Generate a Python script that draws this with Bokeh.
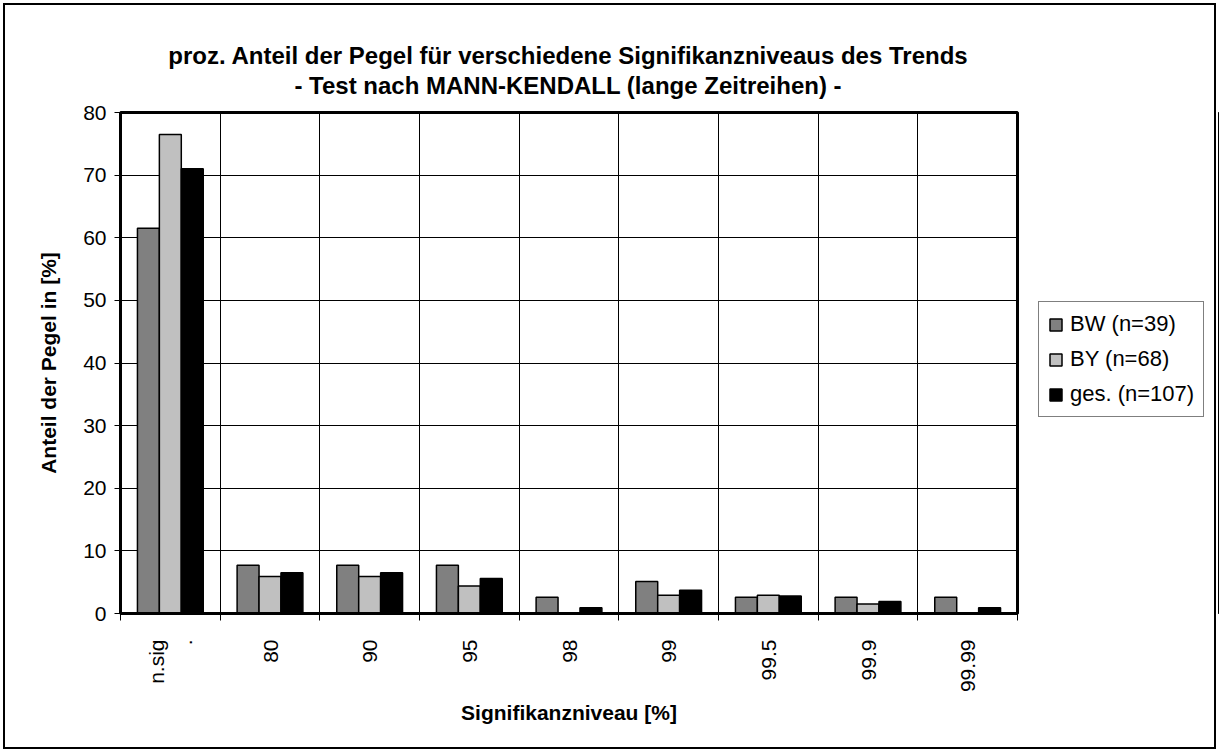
from math import pi
from bokeh.plotting import figure
from bokeh.layouts import column, row
from bokeh.models import FixedTicker, Legend, LegendItem, Range1d, Div
from bokeh.embed import file_html
from bokeh.resources import INLINE

# ---- data ----
categories = ["n.sig\n.", "80", "90", "95", "98", "99", "99.5", "99.9", "99.99"]
bw = [61.5, 7.7, 7.7, 7.7, 2.6, 5.1, 2.6, 2.6, 2.6]
by = [76.5, 5.9, 5.9, 4.4, 0.0, 2.9, 2.9, 1.5, 0.0]
ges = [71.0, 6.5, 6.5, 5.6, 0.9, 3.7, 2.8, 1.9, 0.9]
series_names = ["BW (n=39)", "BY (n=68)", "ges. (n=107)"]
series_colors = ["#808080", "#C0C0C0", "#000000"]
y_ticks = [0, 10, 20, 30, 40, 50, 60, 70, 80]
title_lines = ["proz. Anteil der Pegel für verschiedene Signifikanzniveaus des Trends",
               "- Test nach MANN-KENDALL (lange Zeitreihen) -"]
x_title = "Signifikanzniveau [%]"
y_title = "Anteil der Pegel in [%]"

FONT = "Liberation Sans"
n = len(categories)

# ---- title block ----
title_html = ('<div style="font-family:\'Liberation Sans\',Arial,sans-serif;font-size:24px;'
              'font-weight:bold;color:black;text-align:center;line-height:30px;'
              'padding-top:41px;width:1136px;">'
              + "<br>".join(title_lines) + '</div>')
title_div = Div(text=title_html, width=1219, height=100, margin=0)

# ---- chart ----
p = figure(width=1020, height=652, output_backend="svg", toolbar_location=None,
           title=None, x_range=Range1d(0, n), y_range=Range1d(y_ticks[0], y_ticks[-1]),
           min_border_left=120, min_border_right=3, min_border_top=12,
           min_border_bottom=139, margin=0)
p.background_fill_color = "white"
p.border_fill_color = None
p.outline_line_color = "black"
p.outline_line_width = 3

# bars
centers = [i + 0.5 for i in range(n)]
bar_w = 0.22
offsets = [-bar_w, 0.0, bar_w]
series = [bw, by, ges]
for vals, col, off in zip(series, series_colors, offsets):
    p.vbar(x=[c + off for c in centers], top=vals, bottom=0, width=bar_w,
           fill_color=col, line_color="black", line_width=1.5)

# grids
boundaries = list(range(n + 1))
p.xgrid.ticker = FixedTicker(ticks=boundaries)
p.xgrid.grid_line_color = "black"
p.xgrid.grid_line_width = 1
p.ygrid.ticker = FixedTicker(ticks=y_ticks)
p.ygrid.grid_line_color = "black"
p.ygrid.grid_line_width = 1

# y axis
ya = p.yaxis[0]
ya.ticker = FixedTicker(ticks=y_ticks)
ya.axis_line_width = 3
ya.axis_line_color = "black"
ya.major_tick_out = 6
ya.major_tick_in = 0
ya.minor_tick_line_color = None
ya.major_label_text_font = FONT
ya.major_label_text_font_size = "21px"
ya.major_label_text_color = "black"
ya.major_label_standoff = 8
ya.axis_label = y_title
ya.axis_label_text_font = FONT
ya.axis_label_text_font_size = "21px"
ya.axis_label_text_font_style = "bold"
ya.axis_label_text_color = "black"
ya.axis_label_standoff = 20

# x axis: labels at category centres, tick marks at category boundaries
xa = p.xaxis[0]
xa.ticker = FixedTicker(ticks=centers, minor_ticks=boundaries)
xa.major_label_overrides = {c: cat for c, cat in zip(centers, categories)}
xa.major_label_orientation = pi / 2
xa.axis_line_width = 3
xa.axis_line_color = "black"
xa.major_tick_line_color = None
xa.major_tick_out = 0
xa.major_tick_in = 0
xa.minor_tick_line_color = "black"
xa.minor_tick_line_width = 1
xa.minor_tick_out = 7
xa.minor_tick_in = 0
xa.major_label_text_font = FONT
xa.major_label_text_font_size = "21px"
xa.major_label_text_color = "black"
xa.major_label_standoff = 19
xa.axis_label = x_title
xa.axis_label_text_font = FONT
xa.axis_label_text_font_size = "21px"
xa.axis_label_text_font_style = "bold"
xa.axis_label_text_color = "black"
xa.axis_label_standoff = 6

# ---- legend panel (to the right of the plot area) ----
# the series are drawn again here outside the visible ranges, only to feed the legend swatches
lf = figure(width=199, height=652, output_backend="svg", toolbar_location=None,
            title=None, x_axis_location=None, y_axis_location=None,
            x_range=Range1d(-20, -19), y_range=Range1d(0, 1),
            min_border=0, margin=0)
lf.outline_line_color = None
lf.background_fill_color = None
lf.border_fill_color = None
lf.grid.visible = False
swatches = []
for vals, col, off in zip(series, series_colors, offsets):
    swatches.append(lf.vbar(x=[c + off for c in centers], top=vals, bottom=0, width=bar_w,
                            fill_color=col, line_color="black", line_width=1.5))
items = [LegendItem(label=nm, renderers=[r]) for nm, r in zip(series_names, swatches)]
legend = Legend(items=items, location=(18, 196))
legend.border_line_color = "black"
legend.border_line_width = 1
legend.background_fill_color = "white"
legend.background_fill_alpha = 1
legend.label_text_font = FONT
legend.label_text_font_size = "22px"
legend.label_text_color = "black"
legend.glyph_width = 15
legend.glyph_height = 15
legend.padding = 9
legend.spacing = 9
legend.label_standoff = 7
legend.margin = 0
lf.add_layout(legend)

layout = column(title_div, row(p, lf, spacing=0), spacing=0,
                styles={"outline": "2px solid black", "outline-offset": "-5px"})

open("out.html", "w").write(file_html(layout, INLINE))
